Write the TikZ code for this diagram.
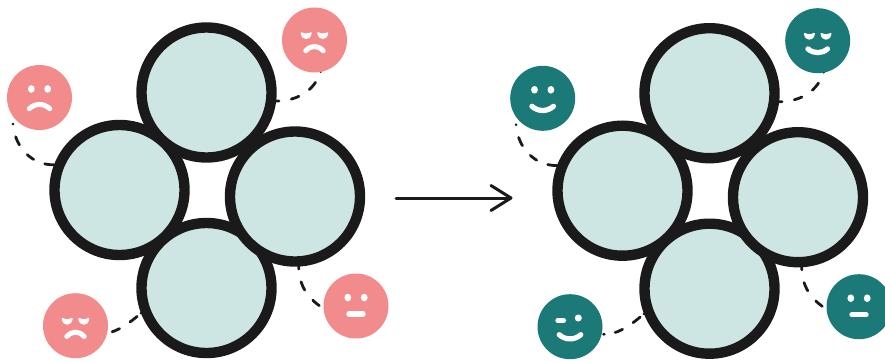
\documentclass[tikz,border=0pt]{standalone}
\usetikzlibrary{arrows.meta}
\definecolor{ring}{HTML}{1A1A1A}
\definecolor{cellfill}{HTML}{CDE6E4}
\definecolor{pinkface}{HTML}{F28B8B}
\definecolor{tealface}{HTML}{1B7A78}
\tikzset{
  cell/.style={circle,draw=ring,fill=cellfill,line width=10.4pt,minimum size=130pt,inner sep=0pt},
  face/.style={circle,fill=#1,minimum size=65pt,inner sep=0pt,outer sep=0pt},
  link/.style={draw=ring,line width=2.8pt,line cap=round},
  feature/.style={draw=white,line cap=round,line join=round},
  flow/.style={draw=ring,line width=3pt,line cap=round,-{Straight Barb[length=20pt,width=25pt,line width=3pt,round]}},
  eyedots/.pic={\fill[white] (-8.2,-8.5) circle[x radius=3.4,y radius=3.8] (8.2,-8.5) circle[x radius=3.4,y radius=3.8];},
  eyelids/.pic={\foreach \s in {-1,1}{
      \filldraw[white,line width=1.6pt,line join=round,xshift=\s*8.3pt] (-4.7,-7) .. controls (-2,-5.4) and (2,-5.4) .. (4.7,-7) .. controls (4.2,-3.2) and (2,-1.8) .. (0,-1.8) .. controls (-2,-1.8) and (-4.2,-3.2) .. (-4.7,-7) -- cycle;}},
  frownwide/.pic={\draw[feature,line width=5pt] (-10.3,11.2) .. controls (-4,5.5) and (4,5.5) .. (10.3,11.2);},
  frown/.pic={\draw[feature,line width=5pt] (-8.7,10.8) .. controls (-3.5,5) and (3.5,5) .. (8.7,10.8);},
  grin/.pic={\draw[feature,line width=5.2pt] (-9.8,8.2) .. controls (-4,13.2) and (4,13.2) .. (9.8,8.2);},
  grinwide/.pic={\draw[feature,line width=5.2pt] (-10.8,8) .. controls (-4.5,13.6) and (4.5,13.6) .. (10.8,8);},
  flatline/.pic={\draw[feature,line width=5.4pt] (-7,8) -- (7,8);},
  wink/.pic={\draw[feature,line width=5pt] (-12.2,-6.2) -- (-6.4,-6.2);
    \fill[white] (8.3,-8.7) circle[radius=3.5];},
}
\newcommand{\clusterlinks}{
  \node[cell] (d) at (206.5,288) {};
  \node[cell] (l) at (119.5,190) {};
  \node[cell] (r) at (295,196.5) {};
  \node[cell] (u) at (206.5,92.5) {};
  \coordinate (tlend) at (13,124);
  \coordinate (trend) at (320.7,71.5);
  \coordinate (brend) at (326,310);
  \coordinate (blend) at (100.5,333.5);
  \draw[link,dash pattern=on 0.1pt off 13pt on 9pt off 12.5pt on 8pt off 12pt on 20pt] (tlend) .. controls (15,148) and (32,165) .. (l.159);
  \draw[link,dash pattern=on 0.1pt off 12pt on 9.5pt off 12.5pt on 8pt off 12.5pt on 10pt] (trend) .. controls (315,90) and (298,101) .. (u.-7);
  \draw[link,dash pattern=on 2.5pt off 13pt on 9pt off 13pt on 8.5pt off 30pt] (r.-87) .. controls (299,285) and (307,299) .. (brend);
  \draw[link,dash pattern=on 0pt off 5pt on 9pt off 12.5pt on 8pt off 11pt on 6pt off 30pt] (d.201) .. controls (125,327) and (113,334) .. (blend);
}
\begin{document}
\begin{tikzpicture}[x=1pt,y=-1pt]
\useasboundingbox (0,0) rectangle (885,361);
\begin{scope}[name prefix=L-]
  \clusterlinks
  \node[face=pinkface] (fa) at (39.5,97.5) {};
  \node[face=pinkface] (fb) at (314.5,40) {};
  \node[face=pinkface] (fc) at (356,306) {};
  \node[face=pinkface] (fd) at (75.5,325.7) {};
  \pic at (fa) {eyedots}; \pic at (fa) {frownwide};
  \pic at (fb) {eyelids}; \pic at (fb) {frown};
  \pic at (fc) {eyedots}; \pic at (fc) {flatline};
  \pic at (fd) {eyelids}; \pic at (fd) {frown};
\end{scope}
\begin{scope}[name prefix=R-,shift={(503,0.7)}]
  \clusterlinks
  \node[face=tealface] (fa) at (39.7,97.6) {};
  \node[face=tealface] (fb) at (314.7,40) {};
  \node[face=tealface] (fc) at (356,306) {};
  \node[face=tealface] (fd) at (67,326) {};
  \pic at (fa) {eyedots}; \pic at (fa) {grinwide};
  \pic at (fb) {eyelids}; \pic at (fb) {grin};
  \pic at (fc) {eyedots}; \pic at (fc) {flatline};
  \pic at (fd) {wink}; \pic at (fd) {grinwide};
\end{scope}
\coordinate (flowstart) at (396,198);
\coordinate (flowend) at (512.5,198);
\draw[flow] (flowstart) -- (flowend);
\end{tikzpicture}
\end{document}
